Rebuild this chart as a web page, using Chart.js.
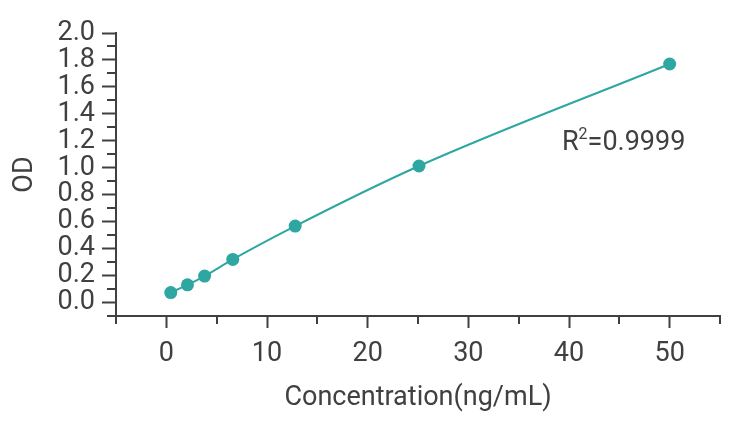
<!DOCTYPE html>
<html>
<head>
<meta charset="utf-8">
<script src="https://cdn.jsdelivr.net/npm/chart.js@4/dist/chart.umd.min.js"></script>
<style>
  html, body { margin: 0; padding: 0; background: #fff; }
  #wrap { width: 741px; height: 428px; }
</style>
</head>
<body>
<div id="wrap"><canvas id="curveChart" width="741" height="428"></canvas></div>
<script>
// standard curve points
const concentrations = [0.44, 2.1, 3.8, 6.6, 12.8, 25.1, 50];
const odValues = [0.074, 0.131, 0.196, 0.32, 0.567, 1.013, 1.77];
const xTickLabels = [0, 10, 20, 30, 40, 50];
const yTickLabels = [0.0, 0.2, 0.4, 0.6, 0.8, 1.0, 1.2, 1.4, 1.6, 1.8, 2.0];
const fitLabel = { text: 'R', sup: '2', rest: '=0.9999', x: 39.3, y: 1.13 };

const teal = '#2ea7a2';
const ink = '#404040';
const fontFamily = 'Roboto, "Noto Sans", sans-serif';
const fontSize = 27;

const isLabelled = (v, list) => list.some(t => Math.abs(t - v) < 1e-6);

// short ticks in between the labelled ones, plus the R² note
const minorTicks = {
    id: 'minorTicks',
    afterDraw(chart) {
        const ctx = chart.ctx;
        const x = chart.scales.x;
        const y = chart.scales.y;
        const area = chart.chartArea;
        ctx.save();
        ctx.strokeStyle = ink;
        ctx.lineWidth = 2;
        x.ticks.forEach(t => {
            if (isLabelled(t.value, xTickLabels)) return;
            const px = Math.round(x.getPixelForValue(t.value));
            ctx.beginPath();
            ctx.moveTo(px, area.bottom);
            ctx.lineTo(px, area.bottom + 8);
            ctx.stroke();
        });
        y.ticks.forEach(t => {
            if (isLabelled(t.value, yTickLabels)) return;
            const py = Math.round(y.getPixelForValue(t.value));
            ctx.beginPath();
            ctx.moveTo(area.left - 9, py);
            ctx.lineTo(area.left, py);
            ctx.stroke();
        });

        const lx = x.getPixelForValue(fitLabel.x);
        const ly = y.getPixelForValue(fitLabel.y);
        ctx.fillStyle = ink;
        ctx.textBaseline = 'alphabetic';
        ctx.textAlign = 'left';
        ctx.font = fontSize + 'px ' + fontFamily;
        ctx.fillText(fitLabel.text, lx, ly);
        let w = ctx.measureText(fitLabel.text).width;
        ctx.font = '16px ' + fontFamily;
        ctx.fillText(fitLabel.sup, lx + w, ly - 11);
        w += ctx.measureText(fitLabel.sup).width;
        ctx.font = fontSize + 'px ' + fontFamily;
        ctx.fillText(fitLabel.rest, lx + w, ly);
        ctx.restore();
    }
};

const ctx = document.getElementById('curveChart').getContext('2d');
new Chart(ctx, {
    type: 'scatter',
    data: {
        datasets: [{
            label: 'OD',
            data: concentrations.map((c, i) => ({ x: c, y: odValues[i] })),
            showLine: true,
            cubicInterpolationMode: 'monotone',
            borderColor: teal,
            borderWidth: 2,
            backgroundColor: teal,
            pointBackgroundColor: teal,
            pointBorderWidth: 0,
            pointRadius: 6.5
        }]
    },
    options: {
        responsive: false,
        animation: false,
        layout: { padding: { top: 33, right: 21, left: 0, bottom: 0 } },
        plugins: {
            legend: { display: false },
            tooltip: { enabled: false }
        },
        scales: {
            x: {
                type: 'linear',
                min: -5,
                max: 55,
                afterFit: scale => { scale.height = 112; },
                border: { color: ink, width: 2 },
                grid: {
                    drawOnChartArea: false,
                    tickLength: 12,
                    tickWidth: 2,
                    tickColor: c => isLabelled(c.tick.value, xTickLabels) ? ink : 'rgba(0,0,0,0)'
                },
                ticks: {
                    stepSize: 5,
                    autoSkip: false,
                    maxRotation: 0,
                    padding: 10,
                    color: ink,
                    font: { family: fontFamily, size: fontSize },
                    callback: v => isLabelled(v, xTickLabels) ? String(v) : ''
                },
                title: {
                    display: true,
                    text: 'Concentration(ng/mL)',
                    color: ink,
                    font: { family: fontFamily, size: fontSize },
                    padding: { top: 4, bottom: 14 }
                }
            },
            y: {
                type: 'linear',
                min: -0.1,
                max: 2.0,
                afterFit: scale => { scale.width = 116; },
                border: { color: ink, width: 2 },
                grid: {
                    drawOnChartArea: false,
                    tickLength: 14,
                    tickWidth: 2,
                    tickColor: c => isLabelled(c.tick.value, yTickLabels) ? ink : 'rgba(0,0,0,0)'
                },
                ticks: {
                    stepSize: 0.1,
                    autoSkip: false,
                    padding: 7,
                    color: ink,
                    font: { family: fontFamily, size: fontSize },
                    callback: v => isLabelled(v, yTickLabels) ? v.toFixed(1) : ''
                },
                title: {
                    display: true,
                    text: 'OD',
                    color: ink,
                    font: { family: fontFamily, size: fontSize },
                    padding: { top: 9, bottom: 4 }
                }
            }
        }
    },
    plugins: [minorTicks]
});
</script>
</body>
</html>
